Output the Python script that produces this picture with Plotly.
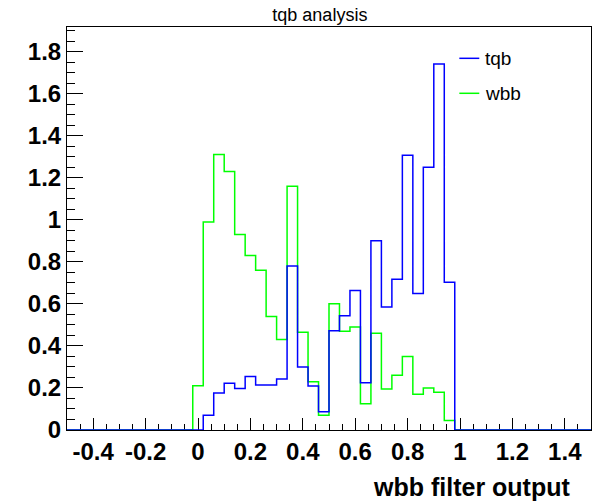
import plotly.graph_objects as go

# Histogram binning: 50 bins of width 0.04 over [-0.5, 1.5]
x_lo = -0.5
bin_w = 0.04
n_bins = 50

# Normalised bin contents (zero outside the populated region)
tqb = [0.0] * 13 + [
    0.07, 0.176, 0.222, 0.197, 0.255, 0.214, 0.214, 0.243,
    0.78, 0.30, 0.209, 0.087, 0.472, 0.544, 0.663, 0.225,
    0.90, 0.585, 0.717, 1.307, 0.649, 1.25, 1.741, 0.703,
] + [0.0] * 13

wbb = [0.0] * 12 + [
    0.21, 0.99, 1.31, 1.23, 0.93, 0.83, 0.76, 0.54, 0.43,
    1.16, 0.465, 0.23, 0.07, 0.60, 0.47, 0.49, 0.125,
    0.46, 0.195, 0.26, 0.35, 0.17, 0.20, 0.18, 0.045,
] + [0.0] * 13

x_tick_vals = [-0.4, -0.2, 0, 0.2, 0.4, 0.6, 0.8, 1, 1.2, 1.4]
x_tick_text = ["-0.4", "-0.2", "0", "0.2", "0.4", "0.6", "0.8", "1", "1.2", "1.4"]

edges = [x_lo + i * bin_w for i in range(n_bins + 1)]


def step_y(vals):
    return list(vals) + [vals[-1]]


FONT = "Liberation Sans"
BLUE = "#0000ff"
GREEN = "#00ff00"

fig = go.Figure()
fig.add_trace(go.Scatter(x=edges, y=step_y(wbb), mode="lines", line_shape="hv",
                         line=dict(color=GREEN, width=1.5), name="wbb",
                         cliponaxis=False, showlegend=False))
fig.add_trace(go.Scatter(x=edges, y=step_y(tqb), mode="lines", line_shape="hv",
                         line=dict(color=BLUE, width=1.5), name="tqb",
                         cliponaxis=False, showlegend=False))

# Legend drawn as line samples + labels
legend_items = [("tqb", BLUE, 0.9223), ("wbb", GREEN, 0.8355)]
for label, color, yy in legend_items:
    fig.add_shape(type="line", xref="paper", yref="paper", x0=0.7487, x1=0.7868,
                  y0=yy, y1=yy, line=dict(color=color, width=1.5))
    fig.add_annotation(xref="paper", yref="paper", x=0.7939, y=yy, text=label,
                       showarrow=False, xanchor="left", yanchor="middle",
                       font=dict(family=FONT, size=19, color="black"))

# x-axis title, right-aligned under the axis
fig.add_annotation(xref="paper", yref="paper", x=0.9637, y=-0.1407,
                   text="wbb filter output", showarrow=False,
                   xanchor="right", yanchor="middle",
                   font=dict(family=FONT, size=25, color="black", weight="bold"))

fig.update_layout(
    width=599, height=502,
    margin=dict(l=67, r=8, t=27, b=72),
    paper_bgcolor="white", plot_bgcolor="white",
    title=dict(text="tqb analysis", x=0.534, y=0.970, xanchor="center", yanchor="middle",
               font=dict(family=FONT, size=18, color="black")),
    xaxis=dict(range=[-0.5, 1.5], tickvals=x_tick_vals, ticktext=x_tick_text,
               ticks="inside", ticklen=12, tickwidth=1, tickcolor="black",
               minor=dict(dtick=0.05, ticks="inside", ticklen=6, tickwidth=1, tickcolor="black"),
               showline=True, linecolor="black", linewidth=1, mirror=True,
               showgrid=False, zeroline=False, layer="below traces",
               tickfont=dict(family=FONT, size=24, color="black", weight="bold")),
    yaxis=dict(range=[0, 1.917], dtick=0.2, tick0=0,
               ticks="inside", ticklen=16, tickwidth=1, tickcolor="black",
               minor=dict(dtick=0.05, ticks="inside", ticklen=8, tickwidth=1, tickcolor="black"),
               showline=True, linecolor="black", linewidth=1, mirror=True,
               showgrid=False, zeroline=False, layer="below traces",
               tickfont=dict(family=FONT, size=24, color="black", weight="bold")),
)

fig.write_html("out.html")
